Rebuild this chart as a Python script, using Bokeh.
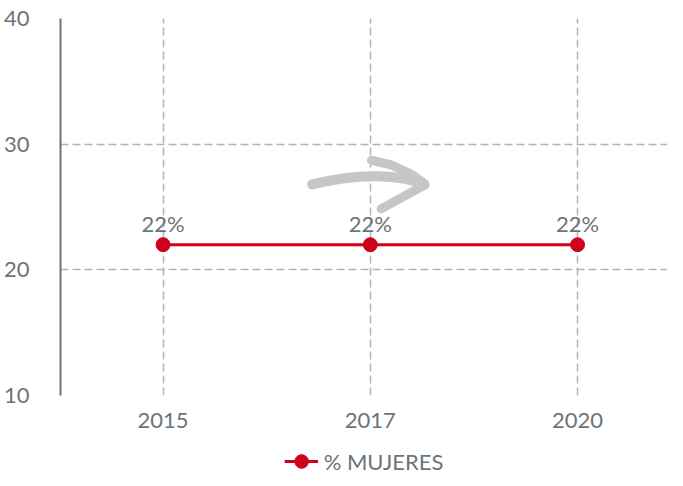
from bokeh.plotting import figure
from bokeh.layouts import column
from bokeh.models import FixedTicker, Legend, LegendItem, ColumnDataSource
from bokeh.core.properties import value
from bokeh.embed import file_html
from bokeh.resources import INLINE

years = ["2015", "2017", "2020"]
pct_mujeres = [22, 22, 22]
point_labels = ["22%", "22%", "22%"]
y_ticks = [10, 20, 30, 40]
series_name = "% MUJERES"

# decorative arrow (data coordinates)
arrow_shaft = dict(x0=[0.719], y0=[26.8], x1=[1.262], y1=[26.78], cx0=[0.95], cy0=[27.75], cx1=[1.15], cy1=[27.6])
arrow_upper_x = [1.005, 1.10, 1.20, 1.262]
arrow_upper_y = [28.72, 28.35, 27.6, 26.85]
arrow_lower_x = [1.262, 1.052]
arrow_lower_y = [26.75, 24.85]

xs = list(range(len(years)))
FONT = "Lato"
TXT = "#6b737c"
RED = "#d0021b"
GRAY = "#c6c6c6"
FS = "22px"

p = figure(width=667, height=440, output_backend="svg", toolbar_location=None,
           x_range=(-0.495, 2.434), y_range=(10, 40),
           min_border_left=52, min_border_right=0, min_border_top=18, min_border_bottom=45)
p.outline_line_color = None
p.background_fill_color = "white"
p.border_fill_color = "white"

p.xaxis.ticker = FixedTicker(ticks=xs)
p.xaxis.major_label_overrides = {i: y for i, y in enumerate(years)}
p.xaxis.axis_line_color = None
p.xaxis.major_tick_line_color = None
p.xaxis.minor_tick_line_color = None
p.xaxis.major_label_text_font = FONT
p.xaxis.major_label_text_font_size = FS
p.xaxis.major_label_text_color = TXT
p.xaxis.major_label_standoff = 11

p.yaxis.ticker = FixedTicker(ticks=y_ticks)
p.yaxis.axis_line_color = "#6f7276"
p.yaxis.axis_line_width = 2
p.yaxis.major_tick_line_color = None
p.yaxis.minor_tick_line_color = None
p.yaxis.major_tick_out = 0
p.yaxis.major_tick_in = 0
p.yaxis.minor_tick_out = 0
p.yaxis.major_label_text_font = FONT
p.yaxis.major_label_text_font_size = FS
p.yaxis.major_label_text_color = TXT
p.yaxis.major_label_standoff = 31

for g in (p.xgrid, p.ygrid):
    g.grid_line_color = "#b3b3b3"
    g.grid_line_dash = "8 4"
    g.grid_line_width = 1.5

# arrow
p.bezier(source=ColumnDataSource(arrow_shaft), x0="x0", y0="y0", x1="x1", y1="y1",
         cx0="cx0", cy0="cy0", cx1="cx1", cy1="cy1", line_color=GRAY, line_width=10, line_cap="round")
p.line(arrow_upper_x, arrow_upper_y, line_color=GRAY, line_width=9, line_cap="round")
p.line(arrow_lower_x, arrow_lower_y, line_color=GRAY, line_width=9, line_cap="round")

src = ColumnDataSource(dict(x=xs, y=pct_mujeres, lab=point_labels))
p.line("x", "y", source=src, line_color=RED, line_width=3)
p.scatter("x", "y", source=src, size=14, fill_color=RED, line_color=RED)
p.text("x", "y", text="lab", source=src, text_font=value(FONT), text_font_size=FS,
       text_color=TXT, text_align="center", text_baseline="bottom", y_offset=-8)

# legend strip below the chart (same series, drawn off-range so only the legend shows)
p2 = figure(width=667, height=38, output_backend="svg", toolbar_location=None,
            x_axis_type=None, y_axis_type=None, x_range=(0, 1), y_range=(0, 1),
            min_border=0)
p2.outline_line_color = None
p2.background_fill_color = "white"
p2.border_fill_color = "white"
off = ColumnDataSource(dict(x=[-10, -9], y=[-10, -10]))
ln2 = p2.line("x", "y", source=off, line_color=RED, line_width=3)
sc2 = p2.scatter("x", "y", source=off, size=14, fill_color=RED, line_color=RED)
legend = Legend(items=[LegendItem(label=series_name, renderers=[ln2, sc2])],
                orientation="horizontal", location="bottom_center",
                label_text_font=FONT, label_text_font_size=FS, label_text_color=TXT,
                glyph_width=34, glyph_height=34, border_line_color=None, background_fill_alpha=0,
                margin=0, padding=0, label_standoff=6)
p2.add_layout(legend)

layout = column(p, p2, spacing=0)
html = file_html(layout, INLINE)
open("out.html", "w").write(html)
